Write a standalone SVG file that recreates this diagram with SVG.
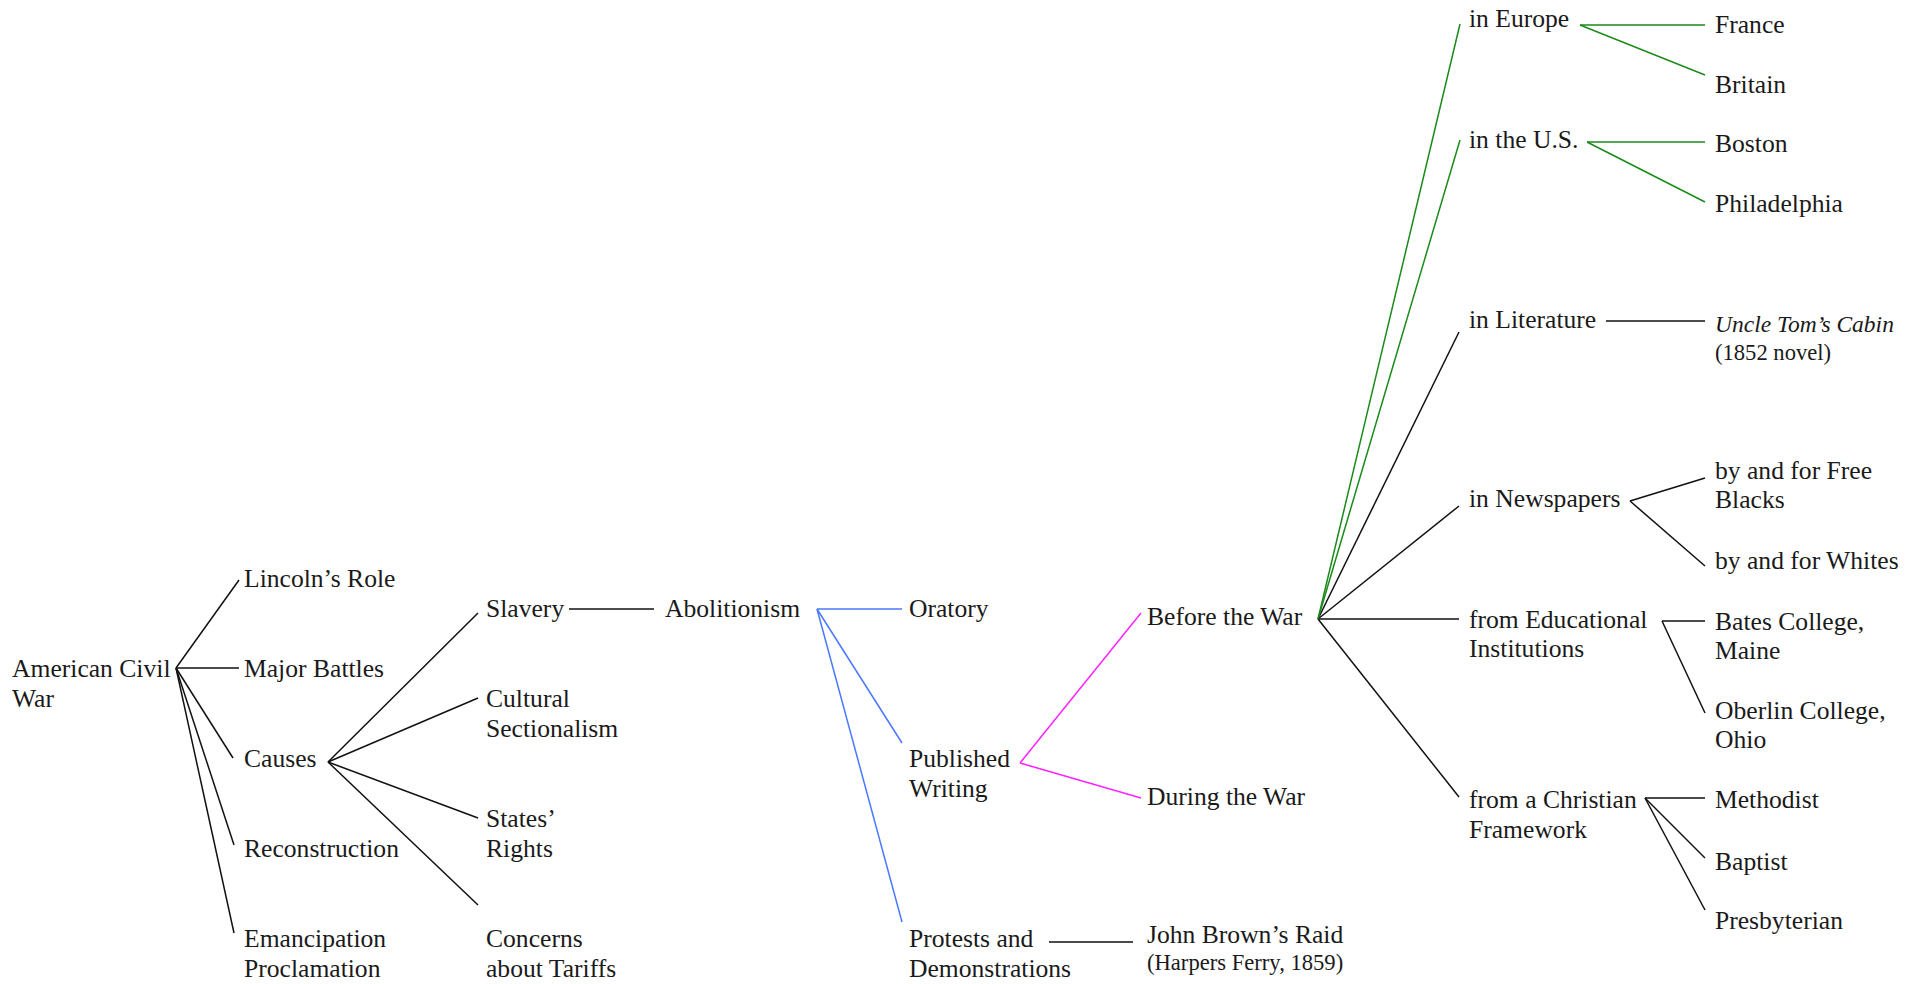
<svg xmlns="http://www.w3.org/2000/svg" width="1923" height="984" viewBox="0 0 1923 984">
<style>
text{font-family:"Liberation Serif","Times New Roman",serif;font-size:25.6px;fill:#1a1a1a}
.sm{font-size:22.6px}
.it{font-style:italic;font-size:23.5px}
line{stroke-width:1.5;fill:none}
.k line{stroke:#111}
.g line{stroke:#1a8a1a}
.b line{stroke:#4a78ff}
.p line{stroke:#ff22ff}
</style>
<rect width="1923" height="984" fill="#fff"/>
<g id="connectors">
<g class="k">
<line x1="176" y1="668" x2="239" y2="580"/>
<line x1="176" y1="668" x2="239" y2="668"/>
<line x1="176" y1="668" x2="233" y2="758"/>
<line x1="176" y1="668" x2="234" y2="845"/>
<line x1="176" y1="668" x2="234" y2="933"/>
<line x1="328" y1="762" x2="478" y2="613"/>
<line x1="328" y1="762" x2="478" y2="698"/>
<line x1="328" y1="762" x2="478" y2="818"/>
<line x1="328" y1="762" x2="478" y2="905"/>
<line x1="569" y1="609" x2="654" y2="609"/>
<line x1="1049" y1="942" x2="1133" y2="942"/>
<line x1="1318" y1="619" x2="1459" y2="332"/>
<line x1="1318" y1="619" x2="1459" y2="506"/>
<line x1="1318" y1="619" x2="1459" y2="619"/>
<line x1="1318" y1="619" x2="1459" y2="797"/>
<line x1="1606" y1="321" x2="1705" y2="321"/>
<line x1="1630" y1="501" x2="1705" y2="478"/>
<line x1="1630" y1="501" x2="1705" y2="566"/>
<line x1="1662" y1="621" x2="1705" y2="621"/>
<line x1="1662" y1="621" x2="1705" y2="713"/>
<line x1="1645" y1="798" x2="1705" y2="798"/>
<line x1="1645" y1="798" x2="1705" y2="858"/>
<line x1="1645" y1="798" x2="1705" y2="910"/>
</g>
<g class="g">
<line x1="1318" y1="619" x2="1460" y2="24"/>
<line x1="1318" y1="619" x2="1460" y2="140"/>
<line x1="1580" y1="25" x2="1705" y2="25"/>
<line x1="1580" y1="25" x2="1705" y2="75"/>
<line x1="1587" y1="142" x2="1705" y2="142"/>
<line x1="1587" y1="142" x2="1705" y2="202"/>
</g>
<g class="b">
<line x1="817" y1="609" x2="902" y2="609"/>
<line x1="817" y1="609" x2="902" y2="743"/>
<line x1="817" y1="609" x2="902" y2="922"/>
</g>
<g class="p">
<line x1="1020" y1="763" x2="1141" y2="613"/>
<line x1="1020" y1="763" x2="1141" y2="798"/>
</g>
</g>
<g id="american-civil-war"><text x="12" y="677">American Civil</text><text x="12" y="707">War</text></g>
<g id="lincolns-role"><text x="244" y="587">Lincoln’s Role</text></g>
<g id="major-battles"><text x="244" y="677">Major Battles</text></g>
<g id="causes"><text x="244" y="767">Causes</text></g>
<g id="reconstruction"><text x="244" y="857">Reconstruction</text></g>
<g id="emancipation"><text x="244" y="947">Emancipation</text><text x="244" y="977">Proclamation</text></g>
<g id="slavery"><text x="486" y="617">Slavery</text></g>
<g id="cultural"><text x="486" y="707">Cultural</text><text x="486" y="737">Sectionalism</text></g>
<g id="states-rights"><text x="486" y="827">States’</text><text x="486" y="857">Rights</text></g>
<g id="tariffs"><text x="486" y="947">Concerns</text><text x="486" y="977">about Tariffs</text></g>
<g id="abolitionism"><text x="665" y="617">Abolitionism</text></g>
<g id="oratory"><text x="909" y="617">Oratory</text></g>
<g id="published"><text x="909" y="767">Published</text><text x="909" y="797">Writing</text></g>
<g id="protests"><text x="909" y="947">Protests and</text><text x="909" y="977">Demonstrations</text></g>
<g id="before"><text x="1147" y="625">Before the War</text></g>
<g id="during"><text x="1147" y="805">During the War</text></g>
<g id="john-brown"><text x="1147" y="943">John Brown’s Raid</text><text class="sm" x="1147" y="970">(Harpers Ferry, 1859)</text></g>
<g id="in-europe"><text x="1469" y="27">in Europe</text></g>
<g id="in-us"><text x="1469" y="148">in the U.S.</text></g>
<g id="in-literature"><text x="1469" y="328">in Literature</text></g>
<g id="in-newspapers"><text x="1469" y="507">in Newspapers</text></g>
<g id="educational"><text x="1469" y="628">from Educational</text><text x="1469" y="657">Institutions</text></g>
<g id="christian"><text x="1469" y="808">from a Christian</text><text x="1469" y="838">Framework</text></g>
<g id="france"><text x="1715" y="33">France</text></g>
<g id="britain"><text x="1715" y="93">Britain</text></g>
<g id="boston"><text x="1715" y="152">Boston</text></g>
<g id="philadelphia"><text x="1715" y="212">Philadelphia</text></g>
<g id="uncle-tom"><text class="it" x="1715" y="332">Uncle Tom’s Cabin</text><text class="sm" x="1715" y="360">(1852 novel)</text></g>
<g id="free-blacks"><text x="1715" y="479">by and for Free</text><text x="1715" y="508">Blacks</text></g>
<g id="whites"><text x="1715" y="569">by and for Whites</text></g>
<g id="bates"><text x="1715" y="630">Bates College,</text><text x="1715" y="659">Maine</text></g>
<g id="oberlin"><text x="1715" y="719">Oberlin College,</text><text x="1715" y="748">Ohio</text></g>
<g id="methodist"><text x="1715" y="808">Methodist</text></g>
<g id="baptist"><text x="1715" y="870">Baptist</text></g>
<g id="presbyterian"><text x="1715" y="929">Presbyterian</text></g>
</svg>
